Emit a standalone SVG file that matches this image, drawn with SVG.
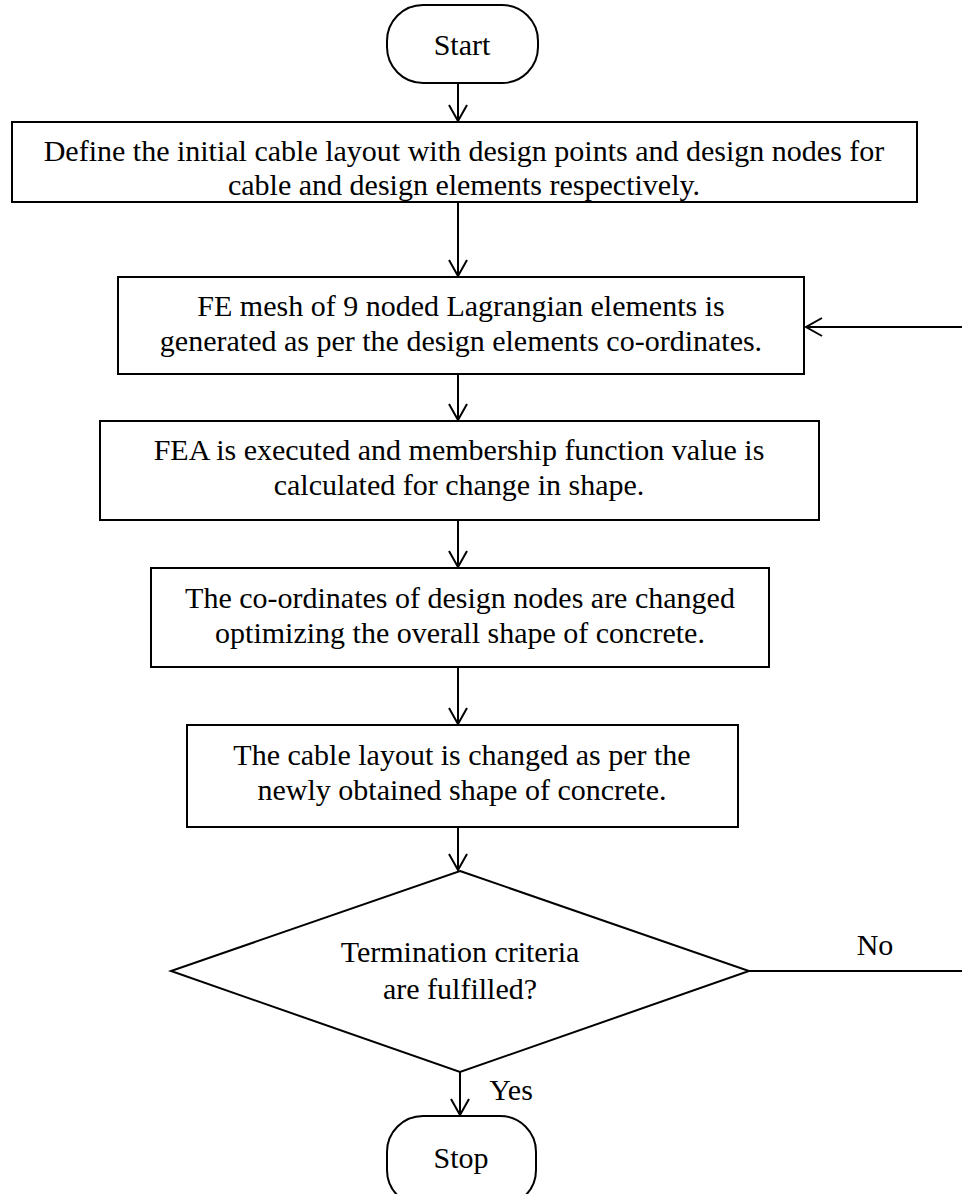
<svg xmlns="http://www.w3.org/2000/svg" width="962" height="1194" viewBox="0 0 962 1194">
<defs>
<marker id="arr" viewBox="0 0 20 20" refX="18" refY="10" markerWidth="20" markerHeight="20" markerUnits="userSpaceOnUse" orient="auto">
<path d="M2,1 L18,10 L2,19" fill="none" stroke="#000" stroke-width="2"/>
</marker>
<style>
.box{fill:#fff;stroke:#000;stroke-width:2}
.t{font-family:"Liberation Serif","Times New Roman",serif;font-size:30px;fill:#000;text-anchor:middle}
.c{fill:none;stroke:#000;stroke-width:2}
</style>
</defs>
<rect width="962" height="1194" fill="#fff"/>
<g id="connectors">
<line class="c" x1="458" y1="83" x2="458" y2="121" marker-end="url(#arr)"/>
<line class="c" x1="458" y1="202" x2="458" y2="276" marker-end="url(#arr)"/>
<line class="c" x1="458" y1="374" x2="458" y2="420" marker-end="url(#arr)"/>
<line class="c" x1="458" y1="520" x2="458" y2="567" marker-end="url(#arr)"/>
<line class="c" x1="458" y1="667" x2="458" y2="724" marker-end="url(#arr)"/>
<line class="c" x1="458" y1="827" x2="458" y2="870" marker-end="url(#arr)"/>
<line class="c" x1="460" y1="1072" x2="460" y2="1115" marker-end="url(#arr)"/>
<line class="c" x1="749" y1="971" x2="962" y2="971"/>
<line class="c" x1="962" y1="327" x2="806" y2="327" marker-end="url(#arr)"/>
<text class="t" x="875" y="955">No</text>
<text class="t" x="511" y="1100">Yes</text>
</g>
<g id="start">
<rect class="box" x="387" y="5" width="151" height="78" rx="36" ry="36"/>
<text class="t" x="462" y="55">Start</text>
</g>
<g id="box1">
<rect class="box" x="12" y="122" width="905" height="80"/>
<text class="t" x="464" y="161">Define the initial cable layout with design points and design nodes for</text>
<text class="t" x="464" y="195">cable and design elements respectively.</text>
</g>
<g id="box2">
<rect class="box" x="118" y="277" width="686" height="97"/>
<text class="t" x="461" y="316">FE mesh of 9 noded Lagrangian elements is</text>
<text class="t" x="461" y="351">generated as per the design elements co-ordinates.</text>
</g>
<g id="box3">
<rect class="box" x="100" y="421" width="719" height="99"/>
<text class="t" x="459" y="460">FEA is executed and membership function value is</text>
<text class="t" x="459" y="495">calculated for change in shape.</text>
</g>
<g id="box4">
<rect class="box" x="151" y="568" width="618" height="99"/>
<text class="t" x="460" y="608">The co-ordinates of design nodes are changed</text>
<text class="t" x="460" y="643">optimizing the overall shape of concrete.</text>
</g>
<g id="box5">
<rect class="box" x="187" y="725" width="551" height="102"/>
<text class="t" x="462" y="765">The cable layout is changed as per the</text>
<text class="t" x="462" y="800">newly obtained shape of concrete.</text>
</g>
<g id="decision">
<polygon class="box" points="460,871 749,971 460,1072 171,971"/>
<text class="t" x="460" y="962">Termination criteria</text>
<text class="t" x="460" y="999">are fulfilled?</text>
</g>
<g id="stop">
<rect class="box" x="387" y="1116" width="149" height="90" rx="36" ry="36"/>
<text class="t" x="461" y="1168">Stop</text>
</g>
</svg>
